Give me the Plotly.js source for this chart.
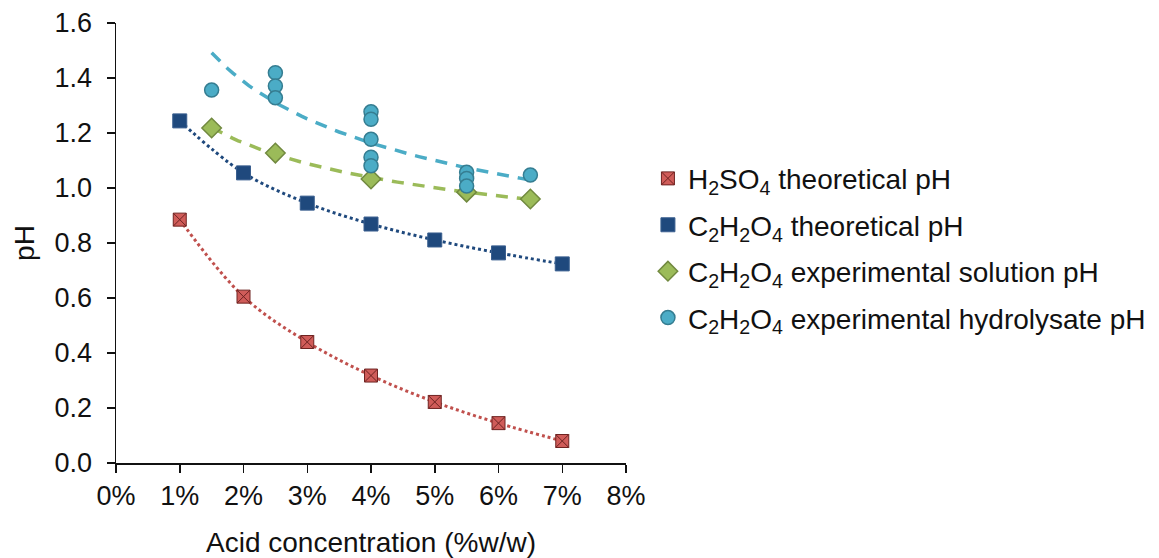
<!DOCTYPE html>
<html><head><meta charset="utf-8">
<script src="https://cdn.plot.ly/plotly-3.0.1.min.js"></script>
<style>html,body{margin:0;padding:0;background:#fff;}#chart{width:1159px;height:558px;}</style>
</head><body><div id="chart"></div>
<script>
// Acid concentration (%w/w)
const theoX = [1, 2, 3, 4, 5, 6, 7];
const h2so4Theo = [0.885, 0.605, 0.44, 0.318, 0.222, 0.145, 0.08];
const oxalicTheo = [1.244, 1.055, 0.945, 0.869, 0.811, 0.764, 0.724];
const solX = [1.5, 2.5, 4, 5.5, 6.5];
const solPH = [1.218, 1.127, 1.033, 0.985, 0.96];
const hydX = [1.5, 2.5, 2.5, 2.5, 4, 4, 4, 4, 4, 5.5, 5.5, 5.5, 6.5];
const hydPH = [1.356, 1.419, 1.371, 1.328, 1.277, 1.25, 1.177, 1.112, 1.081, 1.057, 1.035, 1.007, 1.047];
const xTicks = [0, 1, 2, 3, 4, 5, 6, 7, 8];
const names = ['H<sub>2</sub>SO<sub>4</sub> theoretical pH', 'C<sub>2</sub>H<sub>2</sub>O<sub>4</sub> theoretical pH', 'C<sub>2</sub>H<sub>2</sub>O<sub>4</sub> experimental solution pH', 'C<sub>2</sub>H<sub>2</sub>O<sub>4</sub> experimental hydrolysate pH'];

// power-law trendline (least squares in log-log) computed from the data
function powerFit(xs, ys) {
  const lx = xs.map(Math.log), ly = ys.map(Math.log);
  const n = xs.length;
  const mx = lx.reduce((a, b) => a + b, 0) / n, my = ly.reduce((a, b) => a + b, 0) / n;
  let sxy = 0, sxx = 0;
  for (let i = 0; i < n; i++) { sxy += (lx[i] - mx) * (ly[i] - my); sxx += (lx[i] - mx) ** 2; }
  const b = sxy / sxx, a = Math.exp(my - b * mx);
  const x0 = Math.min(...xs), x1 = Math.max(...xs);
  const tx = [], ty = [];
  for (let i = 0; i <= 60; i++) { const x = x0 + (x1 - x0) * i / 60; tx.push(x); ty.push(a * Math.pow(x, b)); }
  return {x: tx, y: ty};
}
const solFit = powerFit(solX, solPH);
const hydFit = powerFit(hydX, hydPH);

const FONT = 'Arial';
const TXT = '#111111';
const FS = 27;
const FT = 28;

const traces = [
  {x: theoX, y: h2so4Theo, type: 'scatter', mode: 'lines', line: {color: '#C0504D', width: 3, dash: 'dot', shape: 'spline'}, showlegend: false, hoverinfo: 'skip'},
  {x: theoX, y: oxalicTheo, type: 'scatter', mode: 'lines', line: {color: '#1F497D', width: 3, dash: 'dot', shape: 'spline'}, showlegend: false, hoverinfo: 'skip'},
  {x: solFit.x, y: solFit.y, type: 'scatter', mode: 'lines', line: {color: '#9BBB59', width: 3.5, dash: '12px,9px'}, showlegend: false, hoverinfo: 'skip'},
  {x: hydFit.x, y: hydFit.y, type: 'scatter', mode: 'lines', line: {color: '#4BACC6', width: 3.5, dash: '12px,9px'}, showlegend: false, hoverinfo: 'skip'},
  {x: theoX, y: h2so4Theo, type: 'scatter', mode: 'markers', name: names[0], legendgroup: 'a',
   marker: {symbol: 'square-x', size: 13, color: '#D05C59', line: {color: '#6E2321', width: 1}}},
  {x: theoX, y: oxalicTheo, type: 'scatter', mode: 'markers', name: names[1], legendgroup: 'b',
   marker: {symbol: 'square', size: 14, color: '#1F497D', line: {color: '#3A5F8F', width: 1}}},
  {x: solX, y: solPH, type: 'scatter', mode: 'markers', name: names[2], legendgroup: 'c',
   marker: {symbol: 'diamond', size: 15, color: '#9BBB59', line: {color: '#71893F', width: 1.5}}},
  {x: hydX, y: hydPH, type: 'scatter', mode: 'markers', name: names[3], legendgroup: 'd',
   marker: {symbol: 'circle', size: 14, color: '#4BACC6', line: {color: '#357D91', width: 1.5}}}
];

const layout = {
  width: 1159, height: 558,
  margin: {l: 116, r: 533, t: 23, b: 95, autoexpand: false},
  paper_bgcolor: '#fff', plot_bgcolor: '#fff',
  font: {family: FONT, size: FS, color: TXT},
  showlegend: true,
  legend: {x: 1.043, y: 0.703, xanchor: 'left', yanchor: 'top', traceorder: 'grouped', tracegroupgap: 7,
           font: {family: FONT, size: FT, color: TXT}, bgcolor: 'rgba(0,0,0,0)'},
  xaxis: {range: [0, 8], tickvals: xTicks, ticktext: xTicks.map(v => v + '%'), showgrid: false, zeroline: false,
          tickfont: {family: FONT, size: FS, color: TXT}, automargin: false,
          showline: true, linecolor: TXT, linewidth: 1.5, ticks: 'outside', ticklen: 8, tickwidth: 1.5, tickcolor: TXT,
          title: {text: 'Acid concentration (%w/w)', standoff: 24, font: {family: FONT, size: FT, color: TXT}}, fixedrange: true},
  yaxis: {range: [0, 1.6], dtick: 0.2, tickformat: '.1f', showgrid: false, zeroline: false,
          tickfont: {family: FONT, size: FS, color: TXT}, ticklabelstandoff: 9, automargin: false,
          showline: true, linecolor: TXT, linewidth: 1.5, ticks: 'outside', ticklen: 8, tickwidth: 1.5, tickcolor: TXT,
          title: {text: 'pH', standoff: 12, font: {family: FONT, size: FT, color: TXT}}, fixedrange: true}
};
Plotly.newPlot('chart', traces, layout, {displayModeBar: false, staticPlot: true});
</script></body></html>
